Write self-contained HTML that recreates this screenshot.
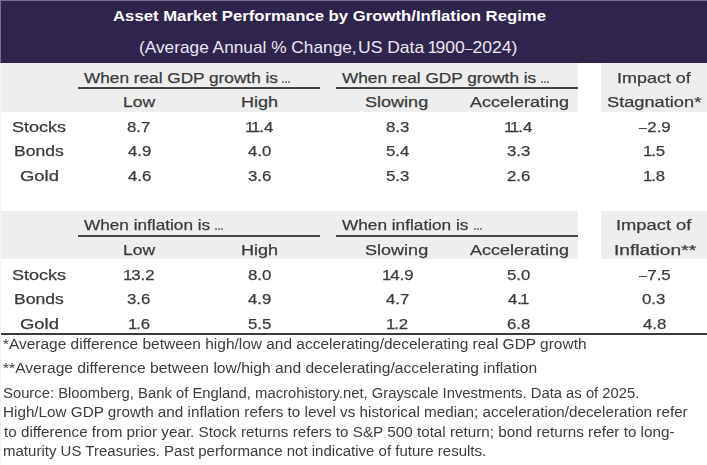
<!DOCTYPE html>
<html><head><meta charset="utf-8"><style>
html,body{margin:0;padding:0;}
body{width:707px;height:465px;position:relative;overflow:hidden;background:#fff;font-family:"Liberation Sans",sans-serif;}
.r{position:absolute;}
.one{margin-left:-1.9px;margin-right:-1.1px}.mn{font-size:82%;margin-right:0.6px}.one2{margin-left:-1.5px;margin-right:-1.5px}.mn2{font-size:80%}
.t{position:absolute;white-space:nowrap;transform-origin:0 0;font-family:"Liberation Sans",sans-serif;}
</style></head><body><div style="position:absolute;left:0;top:0;width:707px;height:465px;filter:blur(0.3px)">

<div class="r" style="left:0px;top:0px;width:707px;height:63px;background:#2f254c"></div>
<div class="r" style="left:0px;top:63px;width:578.3px;height:48.5px;background:#eeeeee"></div>
<div class="r" style="left:601.4px;top:63px;width:105.60000000000002px;height:48.5px;background:#eeeeee"></div>
<div class="r" style="left:77.5px;top:87.3px;width:242.89999999999998px;height:2.0px;background:#454545"></div>
<div class="r" style="left:336.2px;top:87.3px;width:242.09999999999997px;height:2.0px;background:#454545"></div>
<div class="r" style="left:0px;top:211px;width:578.3px;height:48.30000000000001px;background:#eeeeee"></div>
<div class="r" style="left:601.4px;top:211px;width:105.60000000000002px;height:48.30000000000001px;background:#eeeeee"></div>
<div class="r" style="left:77.5px;top:235.0px;width:242.89999999999998px;height:2.0px;background:#454545"></div>
<div class="r" style="left:336.2px;top:235.0px;width:242.09999999999997px;height:2.0px;background:#454545"></div>
<div class="r" style="left:1px;top:333px;width:706px;height:2px;background:#3a3a3a"></div>
<div class="r" style="left:0px;top:0px;width:707px;height:1px;background:#786e93"></div>
<div class="r" style="left:0px;top:0px;width:1px;height:63px;background:#786e93"></div>
<div class="r" style="left:0px;top:63px;width:1px;height:402px;background:#f3f3f3"></div>
<div class="t" style="left:113.00px;top:7.20px;font-size:15.41px;line-height:17.00px;font-weight:700;color:#ffffff;transform:scaleX(1.0854)">Asset Market Performance by Growth/Inflation Regime</div>
<div class="t" style="left:138.90px;top:39.00px;font-size:15.70px;line-height:17.00px;font-weight:400;color:#ebe8f2;transform:scaleX(1.1010)">(Average Annual % Change,</div>
<div class="t" style="left:358.48px;top:39.00px;font-size:15.70px;line-height:17.00px;font-weight:400;color:#ebe8f2;transform:scaleX(1.1163)">US Data <span class=one2>1</span>900<span class=mn2>–</span>2024)</div>
<div class="t" style="-webkit-text-stroke:0.25px currentColor;left:83.80px;top:69.00px;font-size:15.26px;line-height:17.00px;font-weight:400;color:#3a3a3a;transform:scaleX(1.1291)">When real GDP growth is</div>
<div class="r" style="left:282px;top:81px;width:2px;height:2px;background:#8a8a8a"></div>
<div class="r" style="left:285px;top:81px;width:2px;height:2px;background:#8a8a8a"></div>
<div class="r" style="left:288px;top:81px;width:2px;height:2px;background:#8a8a8a"></div>
<div class="t" style="-webkit-text-stroke:0.25px currentColor;left:342.40px;top:69.00px;font-size:15.26px;line-height:17.00px;font-weight:400;color:#3a3a3a;transform:scaleX(1.1308)">When real GDP growth is</div>
<div class="r" style="left:541px;top:81px;width:2px;height:2px;background:#8a8a8a"></div>
<div class="r" style="left:544px;top:81px;width:2px;height:2px;background:#8a8a8a"></div>
<div class="r" style="left:547px;top:81px;width:2px;height:2px;background:#8a8a8a"></div>
<div class="t" style="-webkit-text-stroke:0.25px currentColor;left:616.82px;top:69.00px;font-size:15.26px;line-height:17.00px;font-weight:400;color:#3a3a3a;transform:scaleX(1.1774)">Impact of</div>
<div class="t" style="-webkit-text-stroke:0.25px currentColor;left:122.85px;top:93.00px;font-size:15.26px;line-height:17.00px;font-weight:400;color:#3a3a3a;transform:scaleX(1.1481)">Low</div>
<div class="t" style="-webkit-text-stroke:0.25px currentColor;left:240.82px;top:93.00px;font-size:15.26px;line-height:17.00px;font-weight:400;color:#3a3a3a;transform:scaleX(1.1833)">High</div>
<div class="t" style="-webkit-text-stroke:0.25px currentColor;left:365.32px;top:93.00px;font-size:15.26px;line-height:17.00px;font-weight:400;color:#3a3a3a;transform:scaleX(1.1827)">Slowing</div>
<div class="t" style="-webkit-text-stroke:0.25px currentColor;left:469.50px;top:93.00px;font-size:15.26px;line-height:17.00px;font-weight:400;color:#3a3a3a;transform:scaleX(1.1807)">Accelerating</div>
<div class="t" style="-webkit-text-stroke:0.25px currentColor;left:606.81px;top:93.00px;font-size:15.26px;line-height:17.00px;font-weight:400;color:#3a3a3a;transform:scaleX(1.1948)">Stagnation*</div>
<div class="t" style="-webkit-text-stroke:0.25px currentColor;left:11.92px;top:118.00px;font-size:15.26px;line-height:17.00px;font-weight:400;color:#3a3a3a;transform:scaleX(1.1822)">Stocks</div>
<div class="t" style="-webkit-text-stroke:0.25px currentColor;left:127.42px;top:118.00px;font-size:15.55px;line-height:17.00px;font-weight:400;color:#3a3a3a;transform:scaleX(1.0800)">8.7</div>
<div class="t" style="-webkit-text-stroke:0.25px currentColor;left:247.28px;top:118.00px;font-size:15.55px;line-height:17.00px;font-weight:400;color:#3a3a3a;transform:scaleX(1.0800)"><span class=one>1</span><span class=one>1</span>.4</div>
<div class="t" style="-webkit-text-stroke:0.25px currentColor;left:385.72px;top:118.00px;font-size:15.55px;line-height:17.00px;font-weight:400;color:#3a3a3a;transform:scaleX(1.0800)">8.3</div>
<div class="t" style="-webkit-text-stroke:0.25px currentColor;left:506.18px;top:118.00px;font-size:15.55px;line-height:17.00px;font-weight:400;color:#3a3a3a;transform:scaleX(1.0800)"><span class=one>1</span><span class=one>1</span>.4</div>
<div class="t" style="-webkit-text-stroke:0.25px currentColor;left:638.64px;top:118.00px;font-size:15.55px;line-height:17.00px;font-weight:400;color:#3a3a3a;transform:scaleX(1.0800)"><span class=mn>–</span>2.9</div>
<div class="t" style="-webkit-text-stroke:0.25px currentColor;left:13.85px;top:142.00px;font-size:15.26px;line-height:17.00px;font-weight:400;color:#3a3a3a;transform:scaleX(1.1524)">Bonds</div>
<div class="t" style="-webkit-text-stroke:0.25px currentColor;left:127.96px;top:142.00px;font-size:15.55px;line-height:17.00px;font-weight:400;color:#3a3a3a;transform:scaleX(1.0800)">4.9</div>
<div class="t" style="-webkit-text-stroke:0.25px currentColor;left:248.36px;top:142.00px;font-size:15.55px;line-height:17.00px;font-weight:400;color:#3a3a3a;transform:scaleX(1.0800)">4.0</div>
<div class="t" style="-webkit-text-stroke:0.25px currentColor;left:385.72px;top:142.00px;font-size:15.55px;line-height:17.00px;font-weight:400;color:#3a3a3a;transform:scaleX(1.0800)">5.4</div>
<div class="t" style="-webkit-text-stroke:0.25px currentColor;left:506.72px;top:142.00px;font-size:15.55px;line-height:17.00px;font-weight:400;color:#3a3a3a;transform:scaleX(1.0800)">3.3</div>
<div class="t" style="-webkit-text-stroke:0.25px currentColor;left:645.12px;top:142.00px;font-size:15.55px;line-height:17.00px;font-weight:400;color:#3a3a3a;transform:scaleX(1.0800)"><span class=one>1</span>.5</div>
<div class="t" style="-webkit-text-stroke:0.25px currentColor;left:19.89px;top:167.00px;font-size:15.26px;line-height:17.00px;font-weight:400;color:#3a3a3a;transform:scaleX(1.2100)">Gold</div>
<div class="t" style="-webkit-text-stroke:0.25px currentColor;left:127.96px;top:167.00px;font-size:15.55px;line-height:17.00px;font-weight:400;color:#3a3a3a;transform:scaleX(1.0800)">4.6</div>
<div class="t" style="-webkit-text-stroke:0.25px currentColor;left:247.82px;top:167.00px;font-size:15.55px;line-height:17.00px;font-weight:400;color:#3a3a3a;transform:scaleX(1.0800)">3.6</div>
<div class="t" style="-webkit-text-stroke:0.25px currentColor;left:385.72px;top:167.00px;font-size:15.55px;line-height:17.00px;font-weight:400;color:#3a3a3a;transform:scaleX(1.0800)">5.3</div>
<div class="t" style="-webkit-text-stroke:0.25px currentColor;left:506.72px;top:167.00px;font-size:15.55px;line-height:17.00px;font-weight:400;color:#3a3a3a;transform:scaleX(1.0800)">2.6</div>
<div class="t" style="-webkit-text-stroke:0.25px currentColor;left:645.12px;top:167.00px;font-size:15.55px;line-height:17.00px;font-weight:400;color:#3a3a3a;transform:scaleX(1.0800)"><span class=one>1</span>.8</div>
<div class="t" style="-webkit-text-stroke:0.25px currentColor;left:83.80px;top:216.00px;font-size:15.26px;line-height:17.00px;font-weight:400;color:#3a3a3a;transform:scaleX(1.1277)">When inflation is</div>
<div class="r" style="left:215px;top:228px;width:2px;height:2px;background:#8a8a8a"></div>
<div class="r" style="left:218px;top:228px;width:2px;height:2px;background:#8a8a8a"></div>
<div class="r" style="left:221px;top:228px;width:2px;height:2px;background:#8a8a8a"></div>
<div class="t" style="-webkit-text-stroke:0.25px currentColor;left:342.40px;top:216.00px;font-size:15.26px;line-height:17.00px;font-weight:400;color:#3a3a3a;transform:scaleX(1.1295)">When inflation is</div>
<div class="r" style="left:474px;top:228px;width:2px;height:2px;background:#8a8a8a"></div>
<div class="r" style="left:477px;top:228px;width:2px;height:2px;background:#8a8a8a"></div>
<div class="r" style="left:480px;top:228px;width:2px;height:2px;background:#8a8a8a"></div>
<div class="t" style="-webkit-text-stroke:0.25px currentColor;left:616.30px;top:216.00px;font-size:15.26px;line-height:17.00px;font-weight:400;color:#3a3a3a;transform:scaleX(1.2016)">Impact of</div>
<div class="t" style="-webkit-text-stroke:0.25px currentColor;left:122.85px;top:241.00px;font-size:15.26px;line-height:17.00px;font-weight:400;color:#3a3a3a;transform:scaleX(1.1481)">Low</div>
<div class="t" style="-webkit-text-stroke:0.25px currentColor;left:240.82px;top:241.00px;font-size:15.26px;line-height:17.00px;font-weight:400;color:#3a3a3a;transform:scaleX(1.1833)">High</div>
<div class="t" style="-webkit-text-stroke:0.25px currentColor;left:365.32px;top:241.00px;font-size:15.26px;line-height:17.00px;font-weight:400;color:#3a3a3a;transform:scaleX(1.1827)">Slowing</div>
<div class="t" style="-webkit-text-stroke:0.25px currentColor;left:469.50px;top:241.00px;font-size:15.26px;line-height:17.00px;font-weight:400;color:#3a3a3a;transform:scaleX(1.1807)">Accelerating</div>
<div class="t" style="-webkit-text-stroke:0.25px currentColor;left:614.24px;top:241.00px;font-size:15.26px;line-height:17.00px;font-weight:400;color:#3a3a3a;transform:scaleX(1.2578)">Inflation**</div>
<div class="t" style="-webkit-text-stroke:0.25px currentColor;left:11.92px;top:266.00px;font-size:15.26px;line-height:17.00px;font-weight:400;color:#3a3a3a;transform:scaleX(1.1822)">Stocks</div>
<div class="t" style="-webkit-text-stroke:0.25px currentColor;left:125.26px;top:266.00px;font-size:15.55px;line-height:17.00px;font-weight:400;color:#3a3a3a;transform:scaleX(1.0800)"><span class=one>1</span>3.2</div>
<div class="t" style="-webkit-text-stroke:0.25px currentColor;left:247.82px;top:266.00px;font-size:15.55px;line-height:17.00px;font-weight:400;color:#3a3a3a;transform:scaleX(1.0800)">8.0</div>
<div class="t" style="-webkit-text-stroke:0.25px currentColor;left:383.56px;top:266.00px;font-size:15.55px;line-height:17.00px;font-weight:400;color:#3a3a3a;transform:scaleX(1.0800)"><span class=one>1</span>4.9</div>
<div class="t" style="-webkit-text-stroke:0.25px currentColor;left:506.72px;top:266.00px;font-size:15.55px;line-height:17.00px;font-weight:400;color:#3a3a3a;transform:scaleX(1.0800)">5.0</div>
<div class="t" style="-webkit-text-stroke:0.25px currentColor;left:638.64px;top:266.00px;font-size:15.55px;line-height:17.00px;font-weight:400;color:#3a3a3a;transform:scaleX(1.0800)"><span class=mn>–</span>7.5</div>
<div class="t" style="-webkit-text-stroke:0.25px currentColor;left:13.85px;top:290.00px;font-size:15.26px;line-height:17.00px;font-weight:400;color:#3a3a3a;transform:scaleX(1.1524)">Bonds</div>
<div class="t" style="-webkit-text-stroke:0.25px currentColor;left:127.42px;top:290.00px;font-size:15.55px;line-height:17.00px;font-weight:400;color:#3a3a3a;transform:scaleX(1.0800)">3.6</div>
<div class="t" style="-webkit-text-stroke:0.25px currentColor;left:248.36px;top:290.00px;font-size:15.55px;line-height:17.00px;font-weight:400;color:#3a3a3a;transform:scaleX(1.0800)">4.9</div>
<div class="t" style="-webkit-text-stroke:0.25px currentColor;left:386.26px;top:290.00px;font-size:15.55px;line-height:17.00px;font-weight:400;color:#3a3a3a;transform:scaleX(1.0800)">4.7</div>
<div class="t" style="-webkit-text-stroke:0.25px currentColor;left:508.34px;top:290.00px;font-size:15.55px;line-height:17.00px;font-weight:400;color:#3a3a3a;transform:scaleX(1.0800)">4.<span class=one>1</span></div>
<div class="t" style="-webkit-text-stroke:0.25px currentColor;left:642.42px;top:290.00px;font-size:15.55px;line-height:17.00px;font-weight:400;color:#3a3a3a;transform:scaleX(1.0800)">0.3</div>
<div class="t" style="-webkit-text-stroke:0.25px currentColor;left:19.89px;top:315.00px;font-size:15.26px;line-height:17.00px;font-weight:400;color:#3a3a3a;transform:scaleX(1.2100)">Gold</div>
<div class="t" style="-webkit-text-stroke:0.25px currentColor;left:130.12px;top:315.00px;font-size:15.55px;line-height:17.00px;font-weight:400;color:#3a3a3a;transform:scaleX(1.0800)"><span class=one>1</span>.6</div>
<div class="t" style="-webkit-text-stroke:0.25px currentColor;left:247.82px;top:315.00px;font-size:15.55px;line-height:17.00px;font-weight:400;color:#3a3a3a;transform:scaleX(1.0800)">5.5</div>
<div class="t" style="-webkit-text-stroke:0.25px currentColor;left:388.42px;top:315.00px;font-size:15.55px;line-height:17.00px;font-weight:400;color:#3a3a3a;transform:scaleX(1.0800)"><span class=one>1</span>.2</div>
<div class="t" style="-webkit-text-stroke:0.25px currentColor;left:506.72px;top:315.00px;font-size:15.55px;line-height:17.00px;font-weight:400;color:#3a3a3a;transform:scaleX(1.0800)">6.8</div>
<div class="t" style="-webkit-text-stroke:0.25px currentColor;left:642.96px;top:315.00px;font-size:15.55px;line-height:17.00px;font-weight:400;color:#3a3a3a;transform:scaleX(1.0800)">4.8</div>
<div class="t" style="left:2.93px;top:336.00px;font-size:14.53px;line-height:16.00px;font-weight:400;color:#3c3c3c;transform:scaleX(1.0650)">*Average difference between high/low and accelerating/decelerating real GDP growth</div>
<div class="t" style="left:2.92px;top:360.00px;font-size:14.53px;line-height:16.00px;font-weight:400;color:#3c3c3c;transform:scaleX(1.0758)">**Average difference between low/high and decelerating/accelerating inflation</div>
<div class="t" style="left:2.98px;top:385.00px;font-size:14.53px;line-height:16.00px;font-weight:400;color:#3c3c3c;transform:scaleX(1.0209)">Source: Bloomberg, Bank of England, macrohistory.net, Grayscale Investments. Data as of 2025.</div>
<div class="t" style="left:2.95px;top:404.00px;font-size:14.53px;line-height:16.00px;font-weight:400;color:#3c3c3c;transform:scaleX(1.0507)">High/Low GDP growth and inflation refers to level vs historical median; acceleration/deceleration refer</div>
<div class="t" style="left:4.00px;top:424.00px;font-size:14.53px;line-height:16.00px;font-weight:400;color:#3c3c3c;transform:scaleX(1.0502)">to difference from prior year. Stock returns refers to S&amp;P 500 total return; bond returns refer to long-</div>
<div class="t" style="left:2.97px;top:443.00px;font-size:14.53px;line-height:16.00px;font-weight:400;color:#3c3c3c;transform:scaleX(1.0344)">maturity US Treasuries. Past performance not indicative of future results.</div>
</div></body></html>
